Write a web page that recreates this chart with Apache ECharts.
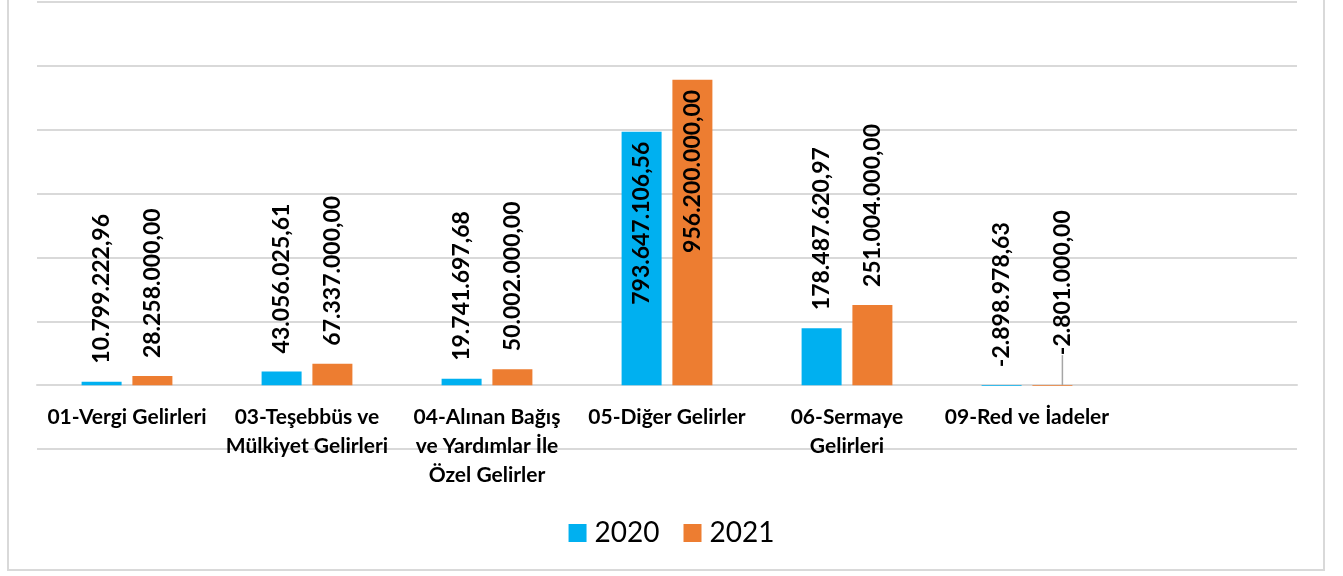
<!DOCTYPE html>
<html>
<head>
<meta charset="utf-8">
<script src="https://cdn.jsdelivr.net/npm/echarts@6/dist/echarts.min.js"></script>
<style>
    html, body { margin: 0; padding: 0; background: #ffffff; }
    #frame {
        position: absolute; left: 7px; top: -2px; width: 1318px; height: 573px;
        border: 2px solid #d9d9d9; box-sizing: border-box;
    }
    #char1 { position: absolute; left: 0; top: 0; width: 1343px; height: 576px; }
</style>
</head>
<body>
<div id="frame"></div>
<div id="char1"></div>
<script>
var categories = [
    "01-Vergi Gelirleri",
    "03-Teşebbüs ve\nMülkiyet Gelirleri",
    "04-Alınan Bağış\nve Yardımlar İle\nÖzel Gelirler",
    "05-Diğer Gelirler",
    "06-Sermaye\nGelirleri",
    "09-Red ve İadeler",
    ""
];
var years = ["2020", "2021"];
var values2020 = [10799222.96, 43056025.61, 19741697.68, 793647106.56, 178487620.97, -2898978.63, null];
var values2021 = [28258000.00, 67337000.00, 50002000.00, 956200000.00, 251004000.00, -2801000.00, null];
var yTicks = [-200000000, 0, 200000000, 400000000, 600000000, 800000000, 1000000000, 1200000000];

function trFormat(v) {
    var neg = v < 0;
    var s = Math.abs(v).toFixed(2).split(".");
    var intPart = s[0].replace(/\B(?=(\d{3})+(?!\d))/g, ".");
    return (neg ? "-" : "") + intPart + "," + s[1];
}

function buildData(arr, movedIndex) {
    return arr.map(function (v, i) {
        if (v === null) return "-";
        if (v > 500000000) {
            return {
                value: v,
                label: { position: "insideTop", align: "right", distance: 10 }
            };
        }
        if (i === movedIndex) {
            return {
                value: v,
                labelLine: { show: true, lineStyle: { color: "#a6a6a6", width: 1.5 } }
            };
        }
        return v;
    });
}

char1();

function char1() {
    var myChart = echarts.init(document.getElementById("char1"));

    var labelCfg = {
        show: true,
        position: "top",
        rotate: 90,
        align: "left",
        verticalAlign: "middle",
        distance: 18,
        color: "#000000",
        fontFamily: "Lato",
        fontWeight: "bold",
        fontSize: 23,
        formatter: function (p) { return trFormat(p.value); }
    };

    var option = {
        animation: false,
        color: ["#00B0F0", "#ED7D31"],
        legend: {
            data: years,
            top: 514,
            left: "center",
            itemWidth: 18,
            itemHeight: 18,
            itemGap: 24,
            icon: "rect",
            textStyle: { color: "#000000", fontFamily: "Lato", fontSize: 28, padding: [0, 0, 0, 3] }
        },
        grid: { left: 37, right: 46, top: 2, bottom: 127 },
        xAxis: {
            type: "category",
            data: categories,
            offset: -64,
            axisTick: { show: false },
            axisLine: { onZero: false, lineStyle: { color: "#d9d9d9", width: 2 } },
            axisLabel: {
                interval: 0,
                margin: 18,
                color: "#000000",
                fontFamily: "Lato",
                fontWeight: "bold",
                fontSize: 21,
                lineHeight: 29
            }
        },
        yAxis: {
            type: "value",
            min: yTicks[0],
            max: yTicks[yTicks.length - 1],
            interval: 200000000,
            axisLabel: { show: false },
            axisLine: { show: false },
            axisTick: { show: false },
            splitLine: { lineStyle: { color: "#d9d9d9", width: 2 } }
        },
        series: [
            {
                name: years[0],
                type: "bar",
                barWidth: 40,
                barGap: "27%",
                label: labelCfg,
                data: buildData(values2020, -1)
            },
            {
                name: years[1],
                type: "bar",
                barWidth: 40,
                label: labelCfg,
                labelLayout: function (p) {
                    if (p.dataIndex === 5) return { dx: 12, dy: 10 };
                },
                data: buildData(values2021, 5)
            }
        ]
    };

    myChart.setOption(option);
    window.addEventListener("resize", function () {
        myChart.resize();
    });
}
</script>
</body>
</html>
